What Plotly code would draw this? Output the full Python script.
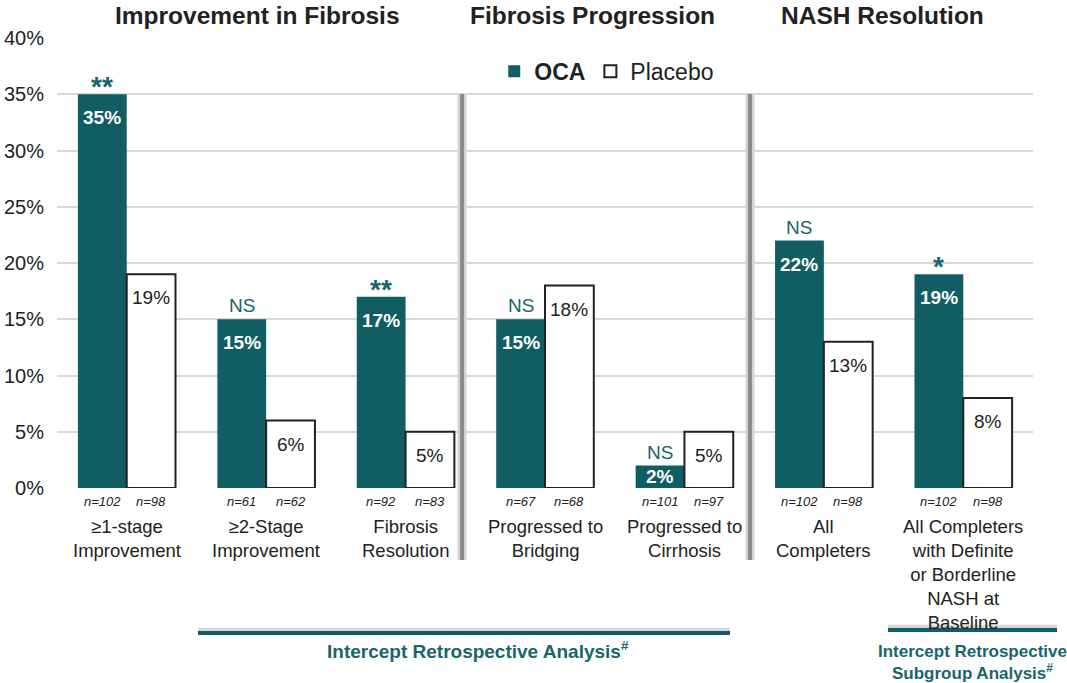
import plotly.graph_objects as go

# ---- data ----
categories = ["≥1-stage<br>Improvement", "≥2-Stage<br>Improvement", "Fibrosis<br>Resolution",
              "Progressed to<br>Bridging", "Progressed to<br>Cirrhosis", "All<br>Completers",
              "All Completers<br>with Definite<br>or Borderline<br>NASH at<br>Baseline"]
oca_values = [35, 15, 17, 15, 2, 22, 19]
placebo_values = [19, 6, 5, 18, 5, 13, 8]
significance = ["**", "NS", "**", "NS", "NS", "NS", "*"]
n_oca = [102, 61, 92, 67, 101, 102, 102]
n_placebo = [98, 62, 83, 68, 97, 98, 98]
section_titles = ["Improvement in Fibrosis", "Fibrosis Progression", "NASH Resolution"]
y_ticks = [0, 5, 10, 15, 20, 25, 30, 35, 40]

# ---- style ----
TEAL = "#105E63"
TEAL_TXT = "#17666B"
DARK = "#222222"
FONT = "Liberation Sans, Arial, Helvetica, sans-serif"
BARGAP = 0.3
half = (1 - BARGAP) / 4  # offset of each bar centre from category centre

x_idx = list(range(len(categories)))

fig = go.Figure()
fig.add_trace(go.Bar(x=x_idx, y=oca_values, name="<b>OCA</b>",
                     marker=dict(color=TEAL, line=dict(color=TEAL, width=0))))
fig.add_trace(go.Bar(x=x_idx, y=placebo_values, name="Placebo",
                     marker=dict(color="white", line=dict(color=DARK, width=2))))

ann = []
for i in x_idx:
    # value labels
    for v, off, col, bold in [(oca_values[i], -half, "white", True),
                              (placebo_values[i], half, DARK, False)]:
        txt = f"<b>{v}%</b>" if bold else f"{v}%"
        if v < 4:
            ann.append(dict(x=i + off, y=v / 2, text=txt, showarrow=False, yanchor="middle",
                            xanchor="center", font=dict(size=19, color=col, family=FONT)))
        else:
            ann.append(dict(x=i + off, y=v, text=txt, showarrow=False, yanchor="top",
                            xanchor="center", yshift=-11, font=dict(size=19, color=col, family=FONT)))
    # significance marks
    s = significance[i]
    if "*" in s:
        ann.append(dict(x=i - half, y=oca_values[i], text=f"<b>{s}</b>", showarrow=False,
                        xanchor="center", yanchor="bottom", yshift=-10,
                        font=dict(size=28, color=TEAL_TXT, family=FONT)))
    else:
        ann.append(dict(x=i - half, y=oca_values[i], text=s, showarrow=False,
                        xanchor="center", yanchor="bottom", yshift=1,
                        font=dict(size=19, color=TEAL_TXT, family=FONT)))
    # n labels
    for nn, off in [(n_oca[i], -half), (n_placebo[i], half)]:
        ann.append(dict(x=i + off, y=-0.029, yref="paper", text=f"<i>n={nn}</i>", showarrow=False,
                        xanchor="center", yanchor="middle", font=dict(size=13, color=DARK, family=FONT)))
    # category labels
    ann.append(dict(x=i, y=-0.057, yref="paper", text=categories[i], showarrow=False,
                    xanchor="center", yanchor="top", font=dict(size=18.5, color=DARK, family=FONT)))

# section titles
for t, xp in zip(section_titles, [0.205, 0.549, 0.846]):
    ann.append(dict(x=xp, xref="paper", y=1.051, yref="paper", text=f"<b>{t}</b>",
                    showarrow=False, xanchor="center", yanchor="middle",
                    font=dict(size=24.5, color=DARK, family=FONT)))

# footnotes
ann.append(dict(x=0.431, xref="paper", y=-0.36, yref="paper",
                text="<b>Intercept Retrospective Analysis<sup>#</sup></b>", showarrow=False,
                xanchor="center", yanchor="middle", font=dict(size=19, color=TEAL_TXT, family=FONT)))
ann.append(dict(x=0.9375, xref="paper", y=-0.387, yref="paper",
                text="<b>Intercept Retrospective<br>Subgroup Analysis<sup>#</sup></b>", showarrow=False,
                xanchor="center", yanchor="middle", font=dict(size=17, color=TEAL_TXT, family=FONT)))

shapes = []
for xp in [0.415, 0.710]:
    shapes.append(dict(type="line", xref="paper", yref="paper", x0=xp, x1=xp, y0=0.8756, y1=-0.16,
                       line=dict(color="#d4d4d4", width=9)))
    shapes.append(dict(type="line", xref="paper", yref="paper", x0=xp, x1=xp, y0=0.8756, y1=-0.16,
                       line=dict(color="#8a8a8a", width=4)))
for x0, x1, yp in [(0.1445, 0.6895, -0.3222), (0.8514, 1.0246, -0.3156)]:
    shapes.append(dict(type="line", xref="paper", yref="paper", x0=x0, x1=x1, y0=yp + 0.006, y1=yp + 0.006,
                       line=dict(color="#d8d8d8", width=5)))
    shapes.append(dict(type="line", xref="paper", yref="paper", x0=x0, x1=x1, y0=yp, y1=yp,
                       line=dict(color=TEAL, width=4)))

fig.update_layout(
    width=1067, height=683,
    margin=dict(l=57, r=34, t=38, b=195),
    paper_bgcolor="white", plot_bgcolor="white",
    barmode="group", bargap=BARGAP, bargroupgap=0,
    font=dict(family=FONT, color=DARK),
    showlegend=True,
    legend=dict(orientation="h", x=0.448, y=0.974, xanchor="left", yanchor="top",
                font=dict(size=23, color=DARK, family=FONT), bgcolor="rgba(0,0,0,0)",
                itemclick=False, tracegroupgap=0),
    annotations=ann, shapes=shapes,
)
fig.update_xaxes(range=[-0.5, 6.5], showticklabels=False, showgrid=False, zeroline=False,
                 showline=False, ticks="", automargin=False)
fig.update_yaxes(range=[0, 40], tickvals=y_ticks, ticktext=[f"{t}%" for t in y_ticks],
                 showgrid=True, gridcolor="#d9d9d9", gridwidth=1.5, zeroline=False,
                 showline=False, ticks="", ticklabelstandoff=12, automargin=False,
                 tickfont=dict(size=20, color=DARK, family=FONT))

fig.write_html("out.html")
